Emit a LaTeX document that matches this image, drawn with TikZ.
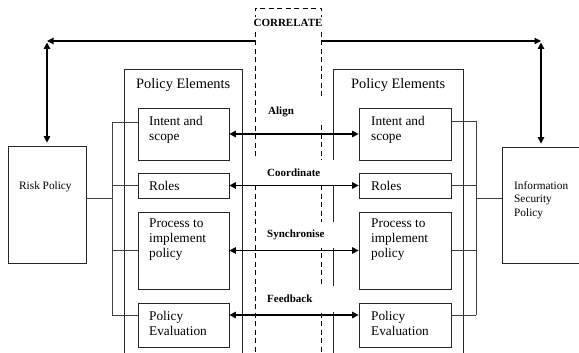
\documentclass[tikz,border=0pt]{standalone}
\usepackage{fontspec}
\setmainfont{Liberation Serif}
\usetikzlibrary{arrows.meta}
\begin{document}
\begin{tikzpicture}[x=1pt,y=-1pt,
  box/.style={draw=black!85, line width=0.8pt, inner sep=0pt},
  bigtxt/.style={font=\fontsize{14.4}{16}\selectfont, anchor=west, inner sep=0pt},
  intxt/.style={font=\fontsize{13.3}{15}\selectfont, anchor=west, inner sep=0pt, align=left},
  smtxt/.style={font=\fontsize{11.3}{13.3}\selectfont, anchor=west, inner sep=0pt, align=left},
  lbl/.style={font=\bfseries\fontsize{11}{13}\selectfont, fill=white, anchor=west, inner ysep=0pt, inner xsep=9pt, text width=60pt, align=left, minimum height=26pt},
  conn/.style={draw=black!75, line width=0.7pt},
  dbl/.style={line width=1.3pt, {Triangle[length=6.5pt,width=6.5pt]}-{Triangle[length=6.5pt,width=6.5pt]}},
  sgl/.style={line width=1.1pt, -{Triangle[length=6.5pt,width=6.5pt]}},
  dsh/.style={draw=black, line width=0.7pt, dash pattern=on 5pt off 3.5pt}
]
\clip (0,0) rectangle (579,353);

% outer policy boxes
\node[box, minimum width=78pt, minimum height=117pt] (risk) at (47,204.5) {};
\node[box, minimum width=78pt, minimum height=116pt] (isp) at (541,205) {};

% big policy-element containers (open at bottom, clipped)
\node[box, minimum width=117.5pt, minimum height=300pt] (lbig) at (183.25,219) {};
\node[box, minimum width=130pt, minimum height=300pt] (rbig) at (398,219) {};

% inner boxes left
\node[box, minimum width=91pt, minimum height=52pt] (li) at (183.5,134) {};
\node[box, minimum width=91pt, minimum height=25pt] (lr) at (183.5,185.5) {};
\node[box, minimum width=91pt, minimum height=77pt] (lp) at (183.5,250.5) {};
\node[box, minimum width=91pt, minimum height=44pt] (le) at (183.5,325) {};
% inner boxes right
\node[box, minimum width=92pt, minimum height=52pt] (ri) at (405,134) {};
\node[box, minimum width=92pt, minimum height=25pt] (rr) at (405,185.5) {};
\node[box, minimum width=92pt, minimum height=77pt] (rp) at (405,250.5) {};
\node[box, minimum width=92pt, minimum height=44pt] (re) at (405,325) {};

% dashed correlate region
\draw[dsh] (255,360) -- (255,8) -- (321,8) -- (321,360);
\coordinate (cl) at (255,41);
\coordinate (cr) at (321,41);
\node[font=\bfseries\fontsize{11}{13}\selectfont, fill=white, inner xsep=1pt, inner ysep=2pt] (corr) at (288,23) {CORRELATE};

% top arrows
\draw[sgl] (cl) -- (cl -| risk.north);
\draw[dbl, shorten <=1.5pt, shorten >=3pt] (risk.north |- cl) -- (risk.north);
\draw[sgl] (cr) -- (cr -| isp.north);
\draw[dbl, shorten <=1.5pt, shorten >=3pt] (isp.north |- cr) -- (isp.north);

% connecting arrows
\coordinate (fb) at (290,315);
\draw[dbl] (li.east) -- (ri.west);
\draw[dbl] (lr.east) -- (rr.west);
\draw[dbl] (lp.east) -- (rp.west);
\draw[dbl] (le.east |- fb) -- (re.west |- fb);

% labels with white backgrounds
\node[lbl, inner xsep=11pt, text width=46pt, minimum height=24pt] (align) at (257,112) {Align};
\node[lbl, inner xsep=13pt, text width=56pt, minimum height=25pt] (coord) at (254,172.5) {Coordinate};
\node[lbl] (sync) at (258,235) {Synchronise};
\node[lbl] (feed) at (258,299) {Feedback};

% left bus
\coordinate (lt) at (112,122);
\coordinate (lb) at (112,315);
\coordinate (lk) at (112,198);
\draw[conn] (lt) -- (lb);
\draw[conn] (lt) -- (lt -| li.west);
\draw[conn] (lr.west) -- (lr.west -| lt);
\draw[conn] (lp.west) -- (lp.west -| lt);
\draw[conn] (lb) -- (lb -| le.west);
\draw[conn] (risk.east |- lk) -- (lk);
% right bus
\coordinate (rt) at (476,121);
\coordinate (rb) at (476,315);
\coordinate (rk) at (476,198);
\draw[conn] (rt) -- (rb);
\draw[conn] (rt) -- (rt -| ri.east);
\draw[conn] (rr.east) -- (rr.east -| rt);
\draw[conn] (rp.east) -- (rp.east -| rt);
\draw[conn] (rb) -- (rb -| re.east);
\draw[conn] (isp.west |- rk) -- (rk);

% texts
\node[bigtxt] (lpe) at (136,85) {Policy Elements};
\node[bigtxt] (rpe) at (351,85) {Policy Elements};
\node[intxt] (lit) at (149,129.5) {Intent and\\scope};
\node[intxt] (lrt) at (149,186) {Roles};
\node[intxt] (lpt) at (149,240) {Process to\\implement\\policy};
\node[intxt] (let) at (149,323.5) {Policy\\Evaluation};
\node[intxt] (rit) at (371,129.5) {Intent and\\scope};
\node[intxt] (rrt) at (371,186) {Roles};
\node[intxt] (rpt) at (371,240) {Process to\\implement\\policy};
\node[intxt] (ret) at (371,323.5) {Policy\\Evaluation};
\node[smtxt] (riskt) at (19,187) {Risk Policy};
\node[smtxt] (ispt) at (514,200) {Information\\Security\\Policy};
\end{tikzpicture}
\end{document}
